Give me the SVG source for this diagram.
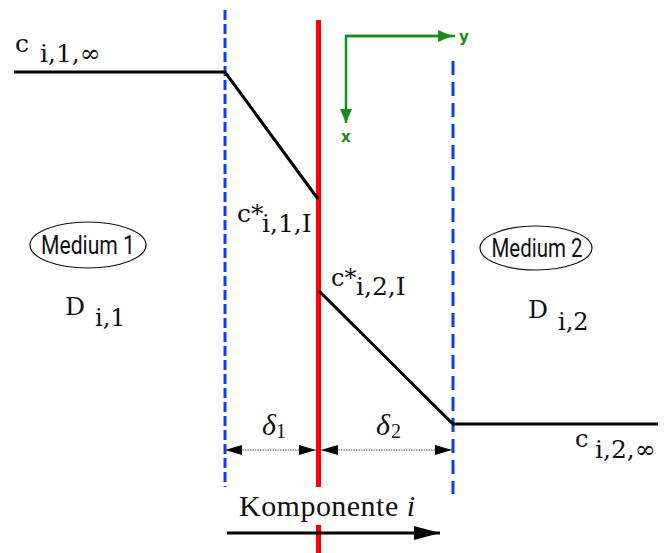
<svg xmlns="http://www.w3.org/2000/svg" width="666" height="553" viewBox="0 0 666 553">
<defs>
<style>
.serif{font-family:"DejaVu Serif","Liberation Serif",serif;fill:#111}
.times{font-family:"Liberation Serif","Times New Roman",serif;fill:#111}
.sans{font-family:"Roboto","DejaVu Sans",sans-serif;fill:#111}
.prof{stroke:#000;stroke-width:3;fill:none}
.blue{stroke:#0a3cff;stroke-width:3;fill:none}
.red{stroke:#ff0000;stroke-width:5;fill:none}
.green{stroke:#1a8c1a;stroke-width:2.5;fill:none}
.dim{stroke:#555;stroke-width:1;stroke-dasharray:1.5 1;fill:none}
.ell{fill:#fff;stroke:#111;stroke-width:1.2}
</style>
<marker id="dimArrow" viewBox="0 0 17 10" refX="17" refY="5" markerWidth="17" markerHeight="10" markerUnits="userSpaceOnUse" orient="auto-start-reverse">
<path d="M0,0 L17,5 L0,10 Z" fill="#000"/>
</marker>
<marker id="bigArrow" viewBox="0 0 26 14" refX="26" refY="7" markerWidth="26" markerHeight="14" markerUnits="userSpaceOnUse" orient="auto">
<path d="M0,0 L26,7 L0,14 Z" fill="#000"/>
</marker>
<marker id="greenArrow" viewBox="0 0 14 12" refX="14" refY="6" markerWidth="14" markerHeight="12" markerUnits="userSpaceOnUse" orient="auto">
<path d="M0,0 L14,6 L0,12 Z" fill="#1a8c1a"/>
</marker>
</defs>
<rect width="666" height="553" fill="#fff"/>

<g id="boundaries">
<line class="blue" x1="225" y1="10" x2="225" y2="487" stroke-dasharray="10 4"/>
<line class="blue" x1="453" y1="61" x2="453" y2="494" stroke-dasharray="14 7"/>
<line class="red" x1="318.5" y1="20" x2="318.5" y2="487"/>
<line class="red" x1="318.5" y1="525" x2="318.5" y2="553"/>
</g>

<g id="connectors">
<polyline class="prof" points="14,72 225,72 318,199"/>
<polyline class="prof" points="319,291 453,424 658,424"/>
<line class="dim" x1="225" y1="450" x2="316" y2="450" marker-start="url(#dimArrow)" marker-end="url(#dimArrow)"/>
<line class="dim" x1="321" y1="450" x2="452" y2="450" marker-start="url(#dimArrow)" marker-end="url(#dimArrow)"/>
<line x1="227" y1="533" x2="440" y2="533" stroke="#000" stroke-width="3" marker-end="url(#bigArrow)"/>
<polyline class="green" points="455,36 346,36 346,123" marker-end="url(#greenArrow)"/>
<line class="green" x1="346" y1="36" x2="452" y2="36" marker-end="url(#greenArrow)"/>
</g>

<g id="axis-labels" font-family="'DejaVu Sans',sans-serif" font-weight="bold" font-size="15" fill="#1a8c1a">
<text x="459" y="42">y</text>
<text x="341" y="142">x</text>
</g>

<g id="c-left">
<text class="serif" x="15" y="52" font-size="25">c</text>
<text class="serif" x="40" y="62" font-size="25">i,1,∞</text>
</g>

<g id="c-star-1">
<text class="serif" x="237" y="222" font-size="25">c*</text>
<text class="serif" x="262" y="232" font-size="25">i,1,I</text>
</g>

<g id="c-star-2">
<text class="serif" x="331" y="286" font-size="24">c*</text>
<text class="serif" x="356" y="295" font-size="25">i,2,I</text>
</g>

<g id="c-right">
<text class="serif" x="575" y="447" font-size="24">c</text>
<text class="serif" x="595" y="458" font-size="25">i,2,∞</text>
</g>

<g id="medium1">
<ellipse class="ell" cx="88" cy="245" rx="58" ry="23"/>
<text class="sans" x="88" y="254" font-size="25" text-anchor="middle" textLength="94" lengthAdjust="spacingAndGlyphs">Medium 1</text>
</g>
<g id="D1">
<text class="serif" x="65" y="315" font-size="25">D</text>
<text class="serif" x="95" y="326" font-size="24">i,1</text>
</g>

<g id="medium2">
<ellipse class="ell" cx="536" cy="248" rx="56" ry="22"/>
<text class="sans" x="537" y="257" font-size="25" text-anchor="middle" textLength="91" lengthAdjust="spacingAndGlyphs">Medium 2</text>
</g>
<g id="D2">
<text class="serif" x="528" y="318" font-size="25">D</text>
<text class="serif" x="558" y="330" font-size="24">i,2</text>
</g>

<g id="delta1">
<text class="times" x="262" y="435" font-size="30" font-style="italic">δ</text>
<text class="times" x="276" y="438" font-size="20">1</text>
</g>
<g id="delta2">
<text class="times" x="376" y="435" font-size="30" font-style="italic">δ</text>
<text class="times" x="391" y="438" font-size="20">2</text>
</g>

<g id="komponente">
<text class="times" x="239" y="516" font-size="30" textLength="176">Komponente <tspan font-style="italic">i</tspan></text>
</g>
</svg>
